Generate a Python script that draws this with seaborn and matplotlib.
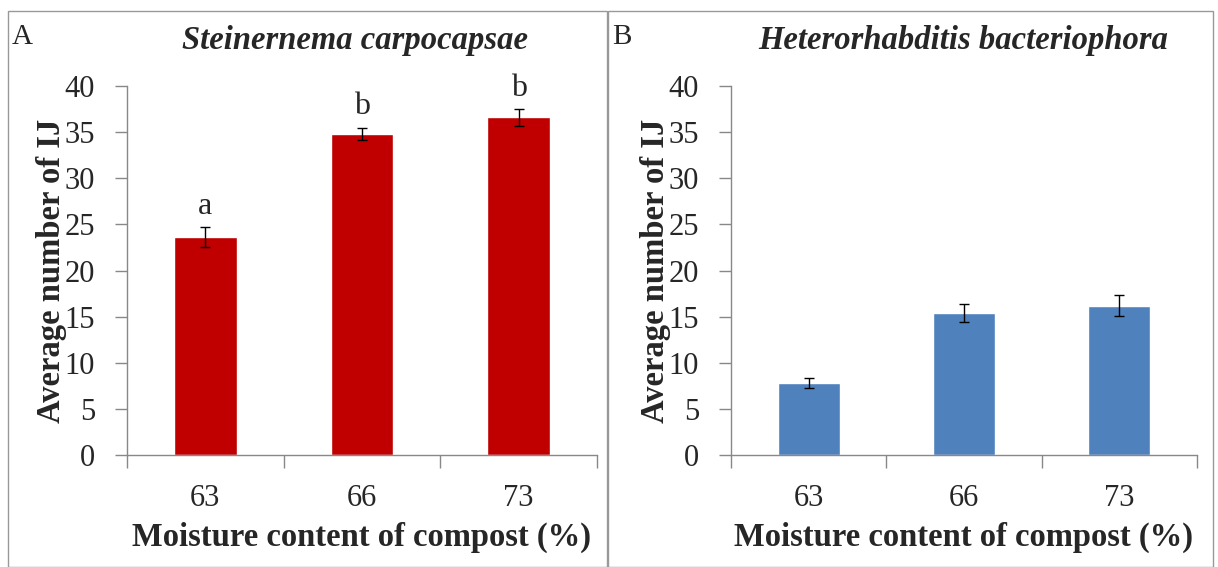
import matplotlib
matplotlib.use("Agg")
import matplotlib.pyplot as plt
import seaborn as sns
import pandas as pd
from matplotlib.patches import Rectangle

moisture = ["63", "66", "73"]
sc_mean = [23.6, 34.8, 36.6]
sc_err = [1.1, 0.7, 0.9]
sc_letters = ["a", "b", "b"]
hb_mean = [7.8, 15.4, 16.2]
hb_err = [0.5, 0.95, 1.1]
yticks = [0, 5, 10, 15, 20, 25, 30, 35, 40]

sns.set_theme(style="white")
plt.rcParams["font.family"] = ["Liberation Serif", "DejaVu Serif"]

fig = plt.figure(figsize=(12.18, 5.67), dpi=100)

panels = [
    dict(rect=[127/1218, 1-455/567, (597-127)/1218, (455-86)/567], mean=sc_mean, err=sc_err,
         color="#C00000", title="Steinernema carpocapsae", letter="A", letters=sc_letters,
         box=(8, 607), tx=355),
    dict(rect=[731/1218, 1-455/567, (1197-731)/1218, (455-86)/567], mean=hb_mean, err=hb_err,
         color="#4F81BD", title="Heterorhabditis bacteriophora", letter="B", letters=None,
         box=(608, 1213), tx=963),
]

for p in panels:
    ax = fig.add_axes(p["rect"])
    df = pd.DataFrame({"moisture": moisture, "mean": p["mean"]})
    sns.barplot(data=df, x="moisture", y="mean", color=p["color"], saturation=1,
                width=0.4, errorbar=None, ax=ax)
    ax.errorbar(range(len(moisture)), p["mean"], yerr=p["err"], fmt="none",
                ecolor="black", elinewidth=1, capsize=3.5, capthick=1)
    ax.set_ylim(0, 40)
    ax.set_xlim(-0.5, 2.5)
    ax.set_yticks(yticks)
    ax.set_yticklabels([str(t) for t in yticks], fontsize=22)
    ax.set_xticks([-0.5, 0.5, 1.5, 2.5], minor=False)
    ax.set_xticklabels([])
    ax.set_xticks([0, 1, 2], minor=True)
    ax.set_xticklabels(moisture, minor=True, fontsize=22)
    ax.tick_params(axis="x", which="major", direction="out", length=9, width=1, color="#888888", bottom=True)
    ax.tick_params(axis="x", which="minor", length=0, pad=21)
    ax.tick_params(axis="y", direction="out", length=9, width=1, color="#888888", left=True, pad=14)
    for s in ["top", "right"]:
        ax.spines[s].set_visible(False)
    for s in ["left", "bottom"]:
        ax.spines[s].set_color("#888888")
        ax.spines[s].set_linewidth(1)
    ax.set_xlabel("Moisture content of compost (%)", fontsize=23.5, fontweight="bold", labelpad=6)
    ax.set_ylabel("Average number of IJ", fontsize=23.5, fontweight="bold", labelpad=-2)
    ax.grid(False)
    if p["letters"]:
        for i, (m, e, l) in enumerate(zip(p["mean"], p["err"], p["letters"])):
            ax.text(i, m + e + 0.7, l, ha="center", va="bottom", fontsize=23)
    x0, x1 = p["box"]
    fig.text(p["tx"]/1218, 1 - 40/567, p["title"], ha="center", va="center",
             fontsize=23.5, fontweight="bold", fontstyle="italic")
    fig.text((x0 + 4)/1218, 1 - 37/567, p["letter"], ha="left", va="center", fontsize=21)
    fig.patches.append(Rectangle((x0/1218, 0), (x1 - x0)/1218, 1 - 11/567, transform=fig.transFigure,
                                 fill=False, edgecolor="#999999", linewidth=1))

fig.savefig("out.png", dpi=100)
